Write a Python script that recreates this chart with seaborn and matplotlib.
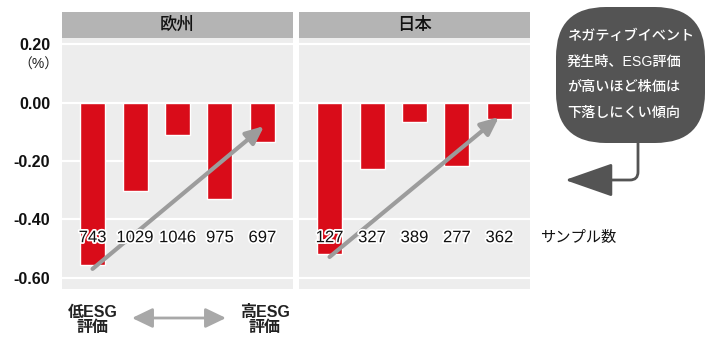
import matplotlib
matplotlib.use("Agg")
import matplotlib.pyplot as plt
import matplotlib.patheffects as pe
from matplotlib.patches import FancyBboxPatch, Rectangle, FancyArrowPatch
import seaborn as sns
import pandas as pd

# ---- data ----
regions = ["欧州", "日本"]
ranks = ["1", "2", "3", "4", "5"]
europe_values = [-0.556, -0.303, -0.110, -0.330, -0.135]
japan_values = [-0.518, -0.228, -0.065, -0.217, -0.055]
europe_n = ["743", "1029", "1046", "975", "697"]
japan_n = ["127", "327", "389", "277", "362"]
yticks = [0.20, 0.00, -0.20, -0.40, -0.60]
callout_lines = ["ネガティブイベント", "発生時、ESG評価", "が高いほど株価は", "下落しにくい傾向"]

sns.set_theme(style="white")
plt.rcParams["font.family"] = ["Liberation Sans", "Noto Sans CJK JP", "DejaVu Sans"]

RED = "#d90c19"
PANEL = "#ededed"
HEADER = "#b4b4b4"
ARROW = "#9c9c9c"
BOX = "#545454"

W, H = 713, 341
fig = plt.figure(figsize=(W / 100, H / 100), dpi=100)

def fx(px):
    return px / W

def fy(py):
    return 1 - py / H

panel_top, panel_bot = 38, 289
lefts = [62, 299]
pw = 231
ylim = (-0.639, 0.222)
xlim = (-0.72, 4.72)

data = {"欧州": (europe_values, europe_n), "日本": (japan_values, japan_n)}
arrows = {"欧州": ((0.0, -0.570), (4.04, -0.080)), "日本": ((0.0, -0.529), (3.99, -0.049))}

for i, reg in enumerate(regions):
    vals, ns = data[reg]
    df = pd.DataFrame({"rank": ranks, "value": vals})
    ax = fig.add_axes([fx(lefts[i]), fy(panel_bot), pw / W, (panel_bot - panel_top) / H])
    ax.set_facecolor(PANEL)
    for yv in yticks:
        ax.axhline(yv, color="white", lw=1.6, zorder=1)
    sns.barplot(data=df, x="rank", y="value", color=RED, saturation=1, width=0.59,
                ax=ax, zorder=2)
    ax.set_xlim(*xlim)
    ax.set_ylim(*ylim)
    ax.set_xlabel("")
    ax.set_ylabel("")
    ax.set_xticks([])
    for s in ax.spines.values():
        s.set_visible(False)
    ax.set_yticks(yticks)
    if i == 0:
        ax.set_yticklabels([f"{v:.2f}" for v in yticks], fontsize=11.5, fontweight="bold",
                           color="#111111")
        ax.tick_params(axis="y", length=0, pad=8.5)
    else:
        ax.set_yticklabels([])
        ax.tick_params(axis="y", length=0)
    # trend arrow
    (x0, y0), (x1, y1) = arrows[reg]
    ax.annotate("", xy=(x1, y1), xytext=(x0, y0),
                arrowprops=dict(arrowstyle="-|>,head_length=0.9,head_width=0.4",
                                color=ARROW, lw=3, shrinkA=0, shrinkB=0), zorder=4)
    # sample counts
    for j, n in enumerate(ns):
        ax.text(j, -0.463, n, ha="center", va="center", fontsize=12, color="#111111",
                zorder=6, path_effects=[pe.withStroke(linewidth=2.5, foreground="white")])
    # header
    fig.patches.append(Rectangle((fx(lefts[i]), fy(panel_top)), pw / W, 26 / H,
                                 transform=fig.transFigure, facecolor=HEADER,
                                 edgecolor="none"))
    fig.text(fx(lefts[i] + pw / 2), fy(25), reg, ha="center", va="center",
             fontsize=12.5, color="#111111", fontweight="medium")

# (%) label
fig.text(fx(38), fy(65), "（%）", ha="center", va="center", fontsize=10, color="#222222")

# sample label
fig.text(fx(540), fy(238), "サンプル数", ha="left", va="center", fontsize=11, color="#111111")

# bottom labels and double arrow
fig.text(fx(93), fy(320), "低ESG\n評価", ha="center", va="center", fontsize=11.5,
         fontweight="bold", color="#222222", linespacing=1.0)
fig.text(fx(265), fy(320), "高ESG\n評価", ha="center", va="center", fontsize=11.5,
         fontweight="bold", color="#222222", linespacing=1.0)
fig.patches.append(FancyArrowPatch(
    (fx(132), fy(318)), (fx(226), fy(318)), transform=fig.transFigure,
    arrowstyle="<|-|>,head_length=5,head_width=2.4", color="#a8a8a8", lw=2,
    mutation_scale=2.5, shrinkA=0, shrinkB=0))

# callout box
fig.patches.append(FancyBboxPatch((fx(556), fy(143)), (705 - 556) / W, (143 - 7) / H,
                                  boxstyle="round,pad=0,rounding_size=0.07",
                                  transform=fig.transFigure, facecolor=BOX,
                                  edgecolor="none", mutation_aspect=W / H))
for k, line in enumerate(callout_lines):
    fig.text(fx(567), fy(36 + k * 25.7), line, ha="left", va="center", fontsize=10.2,
             color="white", fontweight="medium")

# connector arrow
fig.patches.append(FancyArrowPatch(
    (fx(638), fy(143)), (fx(565), fy(180)), transform=fig.transFigure,
    connectionstyle="angle,angleA=90,angleB=0,rad=8",
    arrowstyle="-|>,head_length=12,head_width=4.2", color=BOX, lw=2,
    mutation_scale=2.5, shrinkA=0, shrinkB=0))

fig.savefig("out.png", dpi=100)
